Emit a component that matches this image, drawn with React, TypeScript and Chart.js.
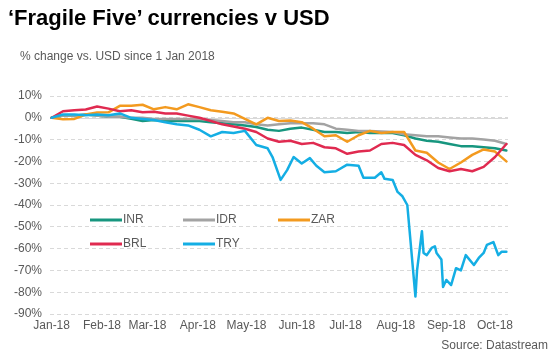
import { useEffect, useRef } from "react";
import { Chart, registerables } from "chart.js";

Chart.register(...registerables);

// x positions: days since 1 Jan 2018 (weekly observations)
const weekDays = [
  0, 7, 14, 21, 28, 35, 42, 49, 56, 63, 70, 77, 84, 91, 98, 105, 112, 119, 126, 133,
  140, 147, 154, 161, 168, 175, 182, 189, 196, 203, 210, 217, 224, 231, 238, 245, 252, 259, 266, 273, 280,
];

const inrValues = [
  0, 1, 1, 1.5, 1, 0.5, 0.5, -0.5, -1.5, -1, -1.5, -1.5, -1.5, -1.5, -2, -2.5, -3, -3.5, -4.2, -5.5,
  -6, -5, -4.5, -5.5, -6.5, -6.5, -7, -6.5, -7, -7, -7, -8, -9.5, -10.5, -11, -12, -13, -13, -13.5, -14, -15,
];

const idrValues = [
  0, 1, 1, 1.5, 1, 0.5, 0.5, 0, 0, -0.5, -0.5, -0.5, -0.5, -0.5, -1, -1.5, -2, -2, -3, -3.5,
  -3, -2.5, -2.5, -2.5, -3, -5, -5.5, -6, -6, -6.3, -6.5, -7.5, -8, -8.5, -8.5, -9, -9.5, -9.5, -10, -10.5, -12,
];

const zarValues = [
  0, -0.7, -0.5, 1.5, 2.4, 2.5, 5.5, 5.5, 6, 3.9, 4.9, 3.9, 6.2, 4.9, 3.5, 2.8, 2, -0.5, -3, 0,
  -1.5, -1.2, -2, -5, -8.5, -8, -11, -8, -6, -7, -6.5, -6.5, -15, -16, -20.5, -23.5, -20.5, -17, -14.5, -15.5, -20,
];

const brlValues = [
  0, 3, 3.5, 3.8, 5.2, 4.2, 3, 3.5, 2.5, 2.8, 2, 2, 1, 0, -1.5, -3, -4, -5, -6.5, -9.5,
  -11, -10.5, -12, -11.5, -13.5, -14, -16.5, -15.5, -15, -12, -11.5, -12.5, -17, -19.5, -23, -24.5, -23.5, -24.5, -22.5, -18, -12,
];

// TRY needs finer sampling around the August crash
const tryDays = [
  0, 7, 14, 21, 28, 35, 42, 49, 56, 63, 70, 77, 84, 91, 98, 105, 112, 119, 126, 133,
  136, 141, 145, 149, 154, 159, 163, 168, 175, 182, 189, 192, 199, 203, 205, 210, 213, 216, 219, 224,
  225, 228, 229, 231, 234, 236, 237, 240, 241, 243, 246, 249, 252, 255, 260, 263, 266, 268, 272, 275, 277, 280,
];

const tryValues = [
  0, 1.5, 1.5, 1.2, 1.5, 1.2, 2, 0, -0.5, -1, -2, -3, -3.5, -5.5, -8.5, -6.5, -7, -6, -12.5, -14,
  -18, -28.5, -24, -18, -21, -18.5, -22, -25, -24.5, -21.5, -22, -27.5, -27.5, -25, -28, -28.5, -34, -36, -40, -82,
  -70, -52, -62, -63, -59.7, -59, -62, -65, -77.6, -74.4, -76.7, -69, -70, -63, -67.5, -64.3, -62, -58.3, -57, -63, -61.5, -61.5,
];

const monthDays = [0, 31, 59, 90, 120, 151, 181, 212, 243, 273];
const monthLabels = ["Jan-18", "Feb-18", "Mar-18", "Apr-18", "May-18", "Jun-18", "Jul-18", "Aug-18", "Sep-18", "Oct-18"];

const seriesNames = ["INR", "IDR", "ZAR", "BRL", "TRY"];
const seriesColors = ["#17967f", "#a3a3a3", "#f39a1f", "#e02a50", "#14aee4"];

const FONT = "'Liberation Sans', Arial, Helvetica, sans-serif";
const TEXT = "#595959";
const GRID = "#d9d9d9";

const toPoints = (xs: number[], ys: number[]) => ys.map((y, i) => ({ x: xs[i], y }));

const zeroLinePlugin = {
  id: "zeroLine",
  beforeDatasetsDraw(chart: any) {
    const { ctx, chartArea, scales } = chart;
    const y = Math.round(scales.y.getPixelForValue(0)) + 0.5;
    ctx.save();
    ctx.setLineDash([]);
    ctx.strokeStyle = GRID;
    ctx.lineWidth = 1;
    ctx.beginPath();
    ctx.moveTo(chartArea.left, y);
    ctx.lineTo(chartArea.right, y);
    ctx.stroke();
    ctx.restore();
  },
};

const legendPlugin = {
  id: "innerLegend",
  afterDraw(chart: any) {
    const { ctx, chartArea } = chart;
    const cols = [40, 133, 228];
    const rows = [124, 148];
    const layout = [
      [0, 0],
      [1, 0],
      [2, 0],
      [0, 1],
      [1, 1],
    ];
    ctx.save();
    ctx.font = `12px ${FONT}`;
    ctx.textBaseline = "middle";
    ctx.fillStyle = TEXT;
    seriesNames.forEach((name, i) => {
      const x = chartArea.left + cols[layout[i][0]];
      const y = chartArea.top + rows[layout[i][1]];
      ctx.strokeStyle = seriesColors[i];
      ctx.lineWidth = 3;
      ctx.setLineDash([]);
      ctx.beginPath();
      ctx.moveTo(x, y);
      ctx.lineTo(x + 32, y);
      ctx.stroke();
      ctx.fillText(name, x + 33, y);
    });
    ctx.restore();
  },
};

export default function App() {
  const canvasRef = useRef<HTMLCanvasElement | null>(null);

  useEffect(() => {
    if (!canvasRef.current) return;
    const xsList = [weekDays, weekDays, weekDays, weekDays, tryDays];
    const ysList = [inrValues, idrValues, zarValues, brlValues, tryValues];
    const orders = [4, 3, 2, 1, 0];
    const chart = new Chart(canvasRef.current, {
      type: "line",
      data: {
        datasets: seriesNames.map((name, i) => ({
          label: name,
          data: toPoints(xsList[i], ysList[i]),
          borderColor: seriesColors[i],
          backgroundColor: seriesColors[i],
          borderWidth: 2.5,
          pointRadius: 0,
          tension: 0,
          fill: false,
          order: orders[i],
          borderJoinStyle: "round",
          borderCapStyle: "round",
        })),
      },
      options: {
        animation: false,
        responsive: false,
        maintainAspectRatio: false,
        layout: { padding: { left: 0, right: 47, top: 96, bottom: 0 } },
        plugins: {
          legend: { display: false },
          tooltip: { enabled: false },
          title: { display: false },
        },
        scales: {
          x: {
            type: "linear",
            min: -1,
            max: 281,
            afterBuildTicks: (scale: any) => {
              scale.ticks = monthDays.map((v) => ({ value: v }));
            },
            afterFit: (scale: any) => {
              scale.height = 48;
            },
            ticks: {
              autoSkip: false,
              maxRotation: 0,
              padding: 4,
              color: TEXT,
              font: { family: FONT, size: 12 },
              callback: (v: any) => {
                const i = monthDays.indexOf(Number(v));
                return i >= 0 ? monthLabels[i] : "";
              },
            },
            grid: { display: false, drawTicks: false },
            border: { display: false },
          },
          y: {
            min: -90,
            max: 10,
            afterFit: (scale: any) => {
              scale.width = 50;
            },
            ticks: {
              stepSize: 10,
              padding: 8,
              color: TEXT,
              font: { family: FONT, size: 12 },
              callback: (v: any) => `${v}%`,
            },
            grid: { color: GRID, drawTicks: false, lineWidth: 1 },
            border: { display: false, dash: [4, 3] },
          },
        },
      },
      plugins: [zeroLinePlugin, legendPlugin],
    } as any);
    return () => chart.destroy();
  }, []);

  return (
    <div style={{ position: "absolute", left: 0, top: 0, width: 555, height: 362, background: "#fff", fontFamily: FONT }}>
      <canvas ref={canvasRef} width={555} height={362} style={{ position: "absolute", left: 0, top: 0, width: 555, height: 362 }} />
      <div style={{ position: "absolute", left: 8, top: 5, fontSize: 22, lineHeight: "26px", fontWeight: "bold", color: "#000", whiteSpace: "nowrap" }}>
        ‘Fragile Five’ currencies v USD
      </div>
      <div style={{ position: "absolute", left: 20, top: 49, fontSize: 12, lineHeight: "14px", color: TEXT, whiteSpace: "nowrap" }}>
        % change vs. USD since 1 Jan 2018
      </div>
      <div style={{ position: "absolute", right: 7, top: 338, fontSize: 12, lineHeight: "14px", color: TEXT, whiteSpace: "nowrap" }}>
        Source: Datastream
      </div>
    </div>
  );
}
